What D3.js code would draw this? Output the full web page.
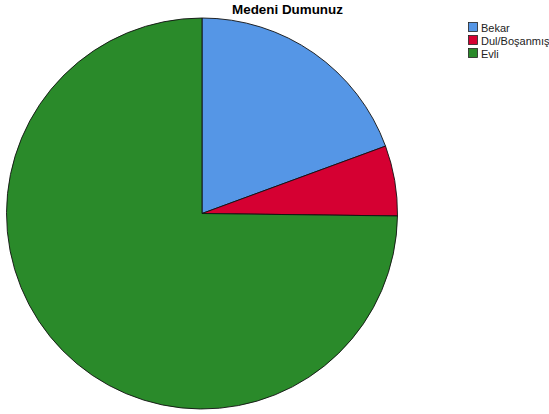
<!DOCTYPE html>
<html>
<head>
<meta charset="utf-8">
<script src="https://cdn.jsdelivr.net/npm/d3@7"></script>
<style>
  body { margin: 0; background: #fff; }
  svg { display: block; font-family: "Liberation Sans", Arial, sans-serif; }
</style>
</head>
<body>
<div class="chart"></div>
<script>
const categories = ["Bekar", "Dul/Boşanmış", "Evli"];
const values = [19.4, 5.8, 74.8];
const colors = ["#5596e6", "#d50032", "#2a8a2a"];
const title = "Medeni Dumunuz";

let width = 549,
  height = 414,
  cx = 202,
  cy = 213.5,
  radius = 195.5;

let data = categories.map((c, i) => ({ name: c, value: values[i], color: colors[i] }));

let svg = d3
  .select(".chart")
  .append("svg")
  .attr("width", width)
  .attr("height", height);

let pie = d3.pie().sort(null).value((d) => d.value);
let arc = d3.arc().innerRadius(0).outerRadius(radius);

svg
  .append("g")
  .attr("transform", "translate(" + cx + "," + cy + ")")
  .selectAll("path")
  .data(pie(data))
  .enter()
  .append("path")
  .attr("d", arc)
  .attr("fill", (d) => d.data.color)
  .attr("stroke", "#111")
  .attr("stroke-width", 0.9)
  .attr("stroke-linejoin", "round");

svg
  .append("text")
  .attr("x", 287.5)
  .attr("y", 14)
  .attr("text-anchor", "middle")
  .style("font-size", "13.4px")
  .style("font-weight", "bold")
  .text(title);

let legend = svg
  .append("g")
  .selectAll("g")
  .data(data)
  .enter()
  .append("g")
  .attr("transform", (d, i) => "translate(468," + (22 + i * 13) + ")");

legend
  .append("rect")
  .attr("x", 0.5)
  .attr("y", 0.5)
  .attr("width", 9)
  .attr("height", 9)
  .attr("fill", (d) => d.color)
  .attr("stroke", "#222")
  .attr("stroke-width", 0.8);

legend
  .append("text")
  .attr("x", 13)
  .attr("y", 9.5)
  .style("font-size", "11px")
  .attr("fill", "#222")
  .text((d) => d.name);
</script>
</body>
</html>
